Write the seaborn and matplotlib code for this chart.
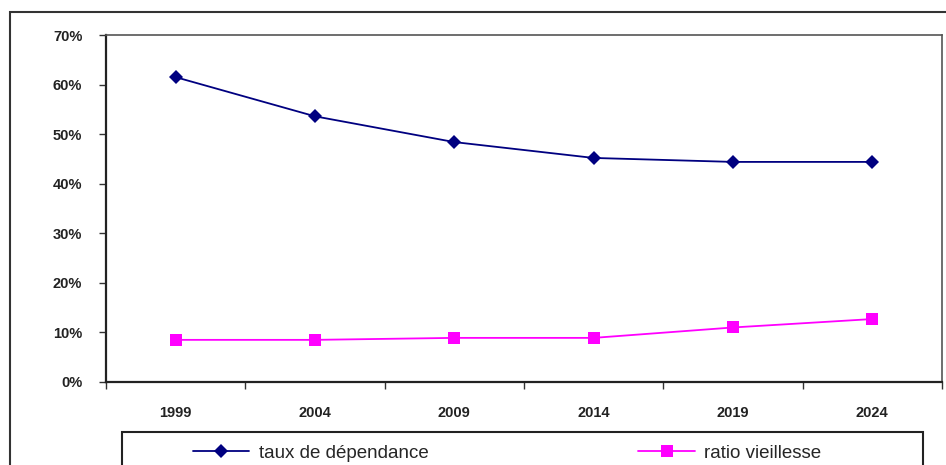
import matplotlib
matplotlib.use("Agg")
import matplotlib.pyplot as plt
import matplotlib.ticker as mticker
from matplotlib.patches import Rectangle
import seaborn as sns
import pandas as pd
import numpy as np

years = ["1999", "2004", "2009", "2014", "2019", "2024"]
taux_dependance = [61.5, 53.6, 48.4, 45.2, 44.4, 44.4]
ratio_vieillesse = [8.5, 8.5, 8.9, 8.9, 11.0, 12.7]
y_ticks = [0, 10, 20, 30, 40, 50, 60, 70]

df = pd.DataFrame({"annee": years,
                   "taux": taux_dependance,
                   "ratio": ratio_vieillesse})

sns.set_style("white")
plt.rcParams["font.family"] = ["Liberation Sans", "DejaVu Sans"]

fig = plt.figure(figsize=(9.46, 4.65), dpi=100)
ax = fig.add_axes([0.112, 0.1785, 0.8838, 0.7462])

sns.lineplot(data=df, x="annee", y="taux", ax=ax, color="#000080",
             marker="D", markersize=7, markeredgewidth=0, linewidth=1.3,
             label="taux de dépendance", legend=False)
sns.lineplot(data=df, x="annee", y="ratio", ax=ax, color="#ff00ff",
             marker="s", markersize=8, markeredgewidth=0, linewidth=1.3,
             label="ratio vieillesse", legend=False)

n = len(years)
ax.set_xlim(-0.5, n - 0.5)
ax.set_ylim(y_ticks[0], y_ticks[-1])
ax.set_yticks(y_ticks)
ax.set_yticklabels([f"{v}%" for v in y_ticks], fontweight="bold")
ax.set_xticks(range(n))
ax.set_xticklabels(years, fontweight="bold")
ax.xaxis.set_minor_locator(mticker.FixedLocator(np.arange(n + 1) - 0.5))
ax.tick_params(axis="x", which="major", length=0, pad=17, labelsize=10.5,
               labelcolor="#222222")
ax.tick_params(axis="x", which="minor", length=5, width=1, color="#333333",
               direction="out", bottom=True)
ax.tick_params(axis="y", length=5, width=1, color="#333333", direction="out",
               left=True, pad=12, labelsize=10.5, labelcolor="#222222")
ax.set_xlabel("")
ax.set_ylabel("")
for side in ["left", "bottom"]:
    ax.spines[side].set_color("#222222")
    ax.spines[side].set_linewidth(1.6)
for side in ["top", "right"]:
    ax.spines[side].set_color("#555555")
    ax.spines[side].set_linewidth(1.2)

# outer chart frame
fig.patches.append(Rectangle((10 / 946, -0.1), 1.0, 1 - 12 / 465 + 0.1,
                             transform=fig.transFigure, fill=False,
                             edgecolor="#333333", linewidth=1.5))
# legend frame
fig.patches.append(Rectangle((122 / 946, -0.1), 801 / 946, 0.1 + 1 - 432 / 465,
                             transform=fig.transFigure, fill=False,
                             edgecolor="#222222", linewidth=1.5))

handles, labels = ax.get_legend_handles_labels()
fig.legend(handles, labels, loc="center left", ncol=2, frameon=False,
           bbox_to_anchor=(193 / 946, 1 - 453 / 465), fontsize=13.5,
           handlelength=3.0, handletextpad=0.5, columnspacing=11.2,
           borderpad=0, borderaxespad=0)

fig.savefig("out.png", dpi=100)
